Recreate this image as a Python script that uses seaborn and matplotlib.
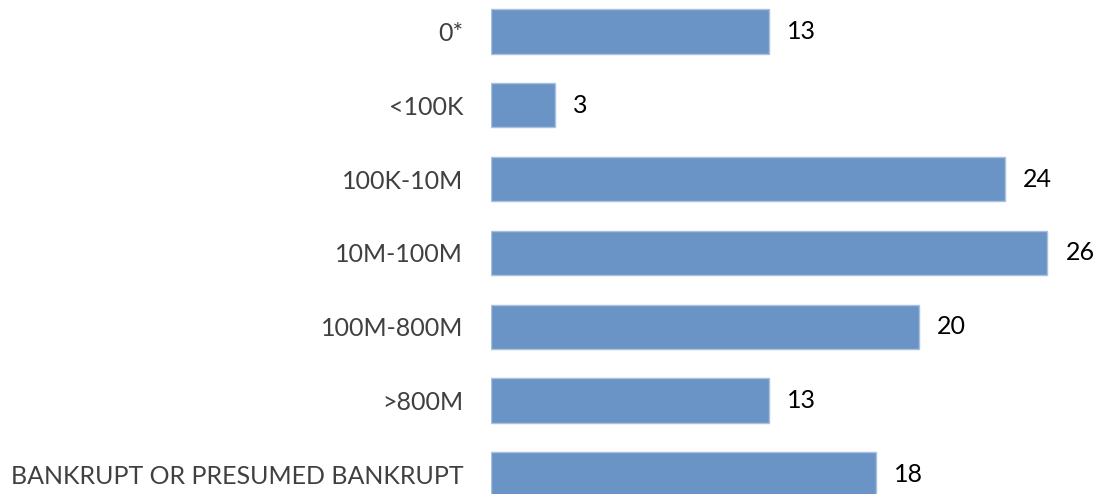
import matplotlib
matplotlib.use("Agg")
import matplotlib.pyplot as plt
import seaborn as sns
import pandas as pd

categories = ["0*", "<100K", "100K-10M", "10M-100M", "100M-800M", ">800M",
              "BANKRUPT OR PRESUMED BANKRUPT"]
counts = [13, 3, 24, 26, 20, 13, 18]

sns.set_theme(style="white")
plt.rcParams["font.family"] = ["Lato", "DejaVu Sans"]

df = pd.DataFrame({"category": categories, "count": counts})

fig = plt.figure(figsize=(10.99, 4.94), dpi=100)
ax = fig.add_axes([491 / 1099, 0, 608 / 1099, 1])

sns.barplot(data=df, y="category", x="count", orient="h", ax=ax,
            color="#6A93C6", saturation=1, width=0.6,
            edgecolor="#A9C1E0", linewidth=1)

ax.set_xlim(0, 608 / 21.4)
ax.set_ylim(6.267, -0.427)
ax.set_xlabel("")
ax.set_ylabel("")
ax.set_xticks([])
sns.despine(ax=ax, left=True, bottom=True)
ax.tick_params(axis="y", length=0, pad=20, labelsize=18, labelcolor="#404040")

for c in ax.containers:
    ax.bar_label(c, labels=[str(v) for v in counts], padding=13,
                 fontsize=18, color="black")

fig.savefig("out.png", dpi=100)
